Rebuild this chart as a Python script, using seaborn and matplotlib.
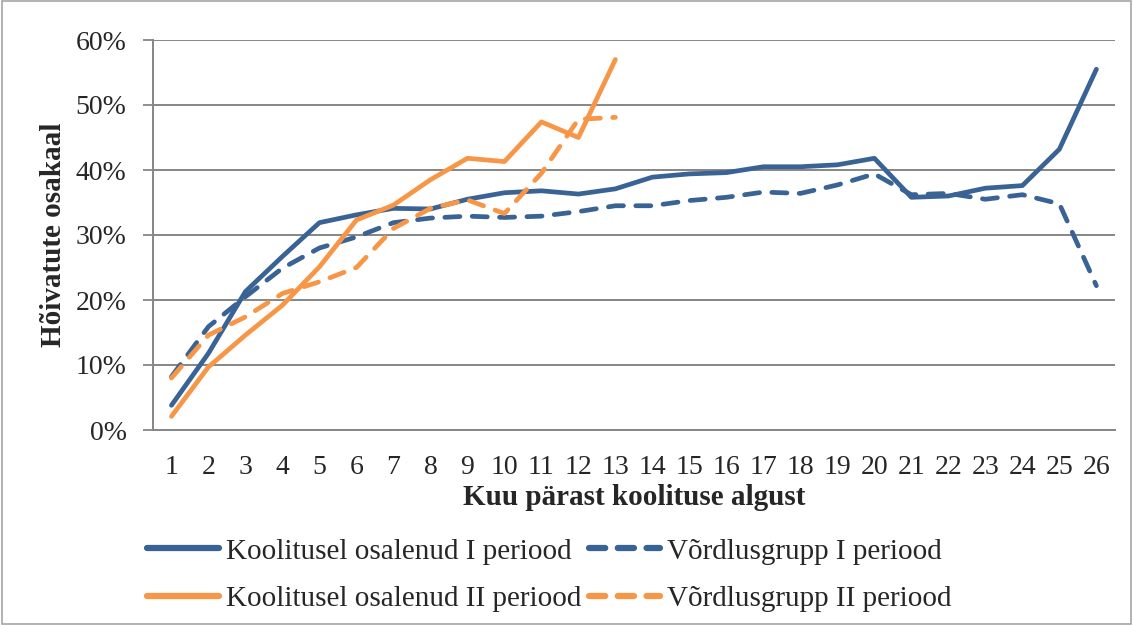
import pandas as pd
import matplotlib.pyplot as plt
import seaborn as sns
from matplotlib.ticker import PercentFormatter, MultipleLocator
from matplotlib.lines import Line2D
from matplotlib.patches import Rectangle

# Values (share employed, %)
months = list(range(1, 27))
koolitus_1 = [3.8, 11.8, 21.3, 26.7, 31.9, 33.1, 34.1, 34.0, 35.5, 36.5, 36.8, 36.3, 37.1,
              38.9, 39.4, 39.6, 40.5, 40.5, 40.8, 41.8, 35.8, 36.0, 37.2, 37.6, 43.2, 55.5]
vordlus_1 = [8.2, 15.9, 20.5, 24.9, 28.0, 29.7, 31.9, 32.6, 32.9, 32.7, 32.9, 33.6, 34.5,
             34.5, 35.3, 35.8, 36.6, 36.4, 37.7, 39.4, 36.2, 36.4, 35.5, 36.2, 34.8, 22.2]
koolitus_2 = [2.1, 9.7, 14.6, 19.2, 25.1, 32.3, 34.6, 38.5, 41.8, 41.3, 47.4, 45.0, 57.0]
vordlus_2 = [8.0, 14.6, 17.4, 21.0, 22.8, 25.0, 31.0, 34.1, 35.4, 33.3, 39.5, 47.8, 48.1]

names = ['Koolitusel osalenud I periood', 'Võrdlusgrupp I periood',
         'Koolitusel osalenud II periood', 'Võrdlusgrupp II periood']
series = [koolitus_1, vordlus_1, koolitus_2, vordlus_2]

rows = []
for name, vals in zip(names, series):
    for m, v in zip(months, vals):
        rows.append({'kuu': m, 'osakaal': v, 'seeria': name})
df = pd.DataFrame(rows)

blue = '#3A6395'
orange = '#F79646'
palette = {names[0]: blue, names[1]: blue, names[2]: orange, names[3]: orange}
dashes = {names[0]: '', names[1]: (3.2, 2.6), names[2]: '', names[3]: (3.2, 2.6)}

sns.set_style('white')
plt.rcParams['font.family'] = ['Liberation Serif', 'DejaVu Serif']

fig = plt.figure(figsize=(11.33, 6.25), dpi=100)
ax = fig.add_axes([0.135, 0.312, 0.849, 0.624])

sns.lineplot(data=df, x='kuu', y='osakaal', hue='seeria', style='seeria',
             palette=palette, dashes=dashes, linewidth=3.4, legend=False, ax=ax,
             zorder=3)
for line in ax.get_lines():
    line.set_dash_capstyle('round')
    line.set_solid_capstyle('round')

ax.set_xlim(0.5, 26.5)
ax.set_ylim(0, 60)
ax.yaxis.set_major_locator(MultipleLocator(10))
ax.yaxis.set_major_formatter(PercentFormatter(decimals=0))
ax.set_xticks(months)
ax.set_xticks([m + 0.5 for m in range(0, 27)], minor=True)
ax.tick_params(axis='x', which='major', length=0, pad=18, labelsize=20)
ax.tick_params(axis='x', which='minor', length=7, width=1.3, color='#868686', direction='out')
ax.tick_params(axis='y', which='major', length=7, width=1.3, color='#868686',
               direction='out', left=True, labelsize=20, pad=12)
ax.grid(axis='y', color='#868686', linewidth=1.4)
ax.set_axisbelow(True)
for s in ['top', 'right']:
    ax.spines[s].set_visible(False)
for s in ['left', 'bottom']:
    ax.spines[s].set_color('#868686')
    ax.spines[s].set_linewidth(1.4)

ax.set_xlabel('Kuu pärast koolituse algust', fontsize=21, fontweight='bold', labelpad=3)
ax.set_ylabel('Hõivatute osakaal', fontsize=21, fontweight='bold', labelpad=6)

# legend is filled column by column, so order rows as the reference shows them
order = [0, 2, 1, 3]
handles = [Line2D([], [], color=palette[names[i]], linewidth=4.5, solid_capstyle='round',
                  dash_capstyle='round',
                  linestyle='-' if dashes[names[i]] == '' else (0, (2.6, 2.0)))
           for i in order]
fig.legend(handles, [names[i] for i in order], loc='lower left',
           bbox_to_anchor=(0.112, -0.012), ncol=2, frameon=False, fontsize=21,
           handlelength=2.45, handletextpad=0.25, columnspacing=0.25, labelspacing=0.72,
           borderaxespad=0.3)

fig.patches.append(Rectangle((0.002, 0.002), 0.996, 0.996, transform=fig.transFigure,
                             fill=False, edgecolor='#A6A6A6', linewidth=1.2))

fig.savefig('out.png', dpi=100)
